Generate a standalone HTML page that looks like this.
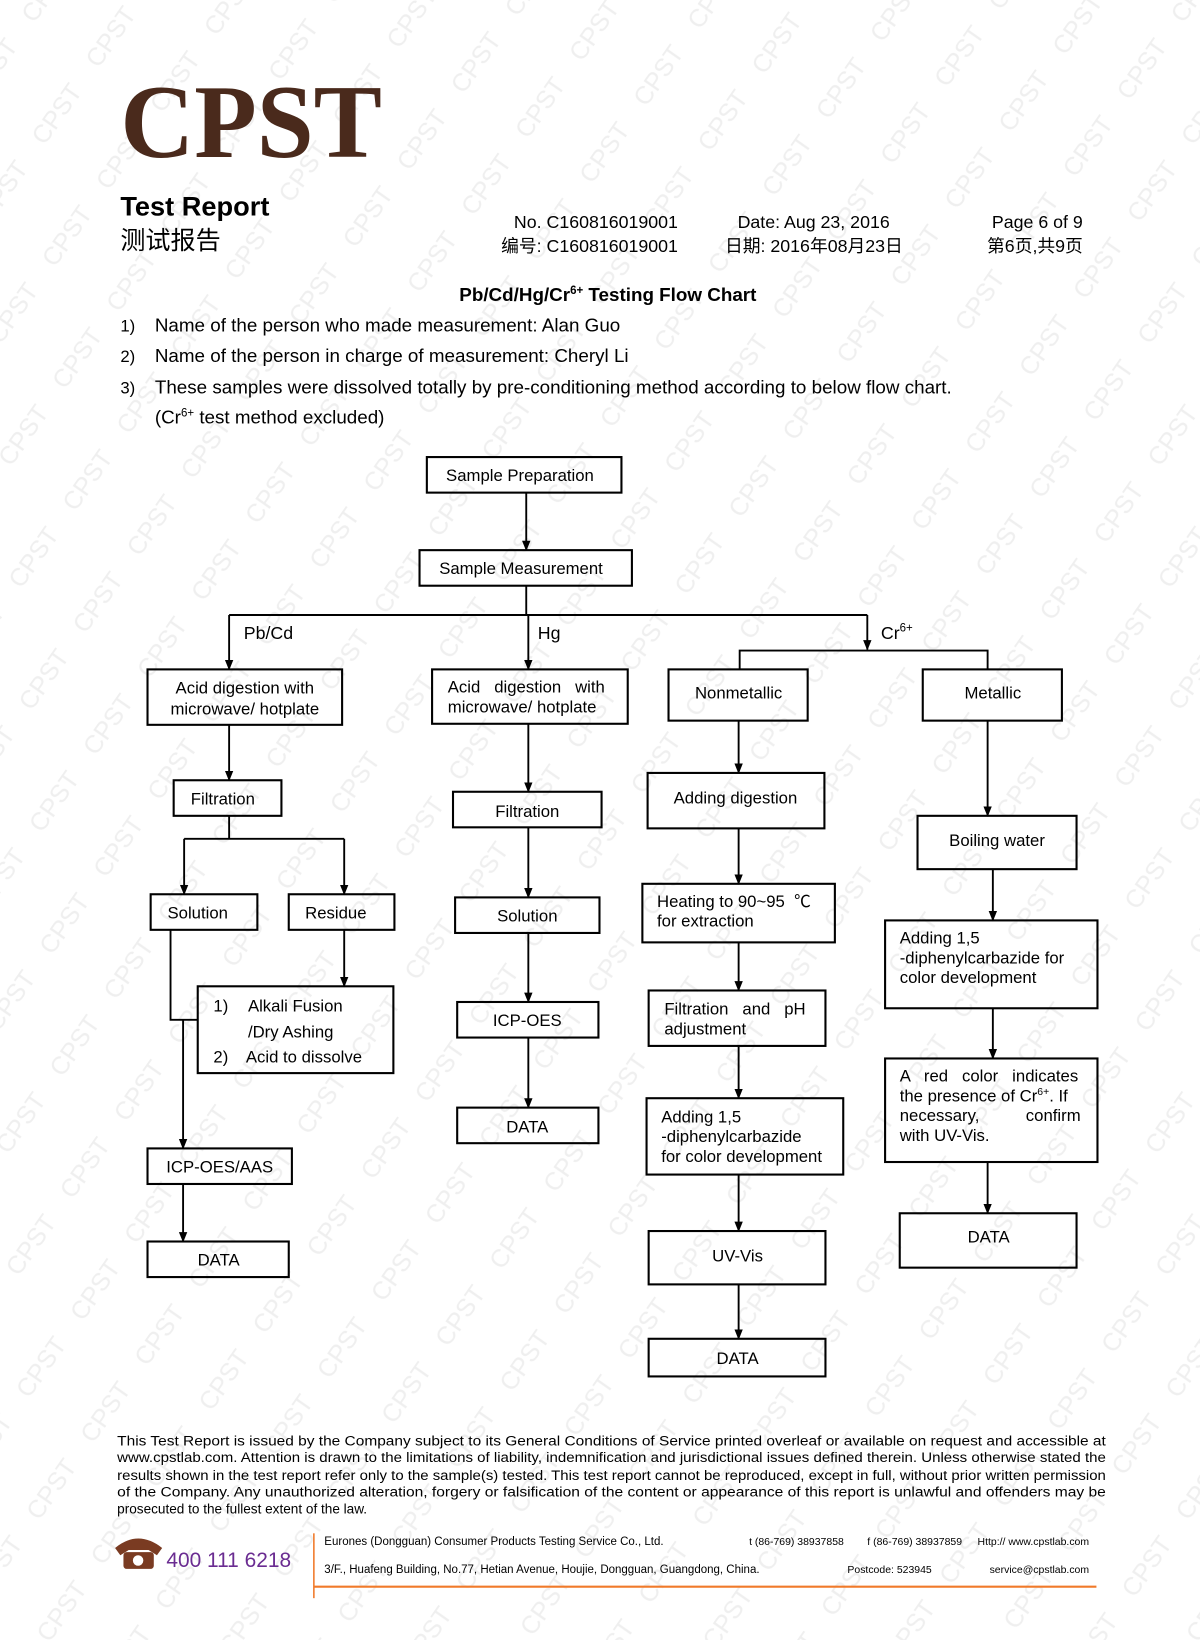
<!DOCTYPE html>
<html><head><meta charset="utf-8"><style>
html,body{margin:0;padding:0;background:#fff;}
svg{display:block;}
text{font-family:"Liberation Sans","Noto Sans CJK SC",sans-serif;fill:#000;white-space:pre;}
</style></head><body>
<svg width="1200" height="1640" viewBox="0 0 1147 1568" preserveAspectRatio="none" xmlns="http://www.w3.org/2000/svg">
<defs>
<marker id="a" markerWidth="10" markerHeight="10" refX="9" refY="5" orient="auto" markerUnits="userSpaceOnUse"><path d="M0,1 L10,5 L0,9 z" fill="#000"/></marker>
<pattern id="wm" width="90" height="75" patternUnits="userSpaceOnUse" patternTransform="rotate(-55)">
<text x="0" y="40" font-size="24" style="fill:#efefef">CPST</text></pattern>
</defs>
<rect width="1147" height="1568" fill="#fff"/>
<rect width="1147" height="1568" fill="url(#wm)"/>

<text x="115" y="150" font-size="100" font-weight="bold" textLength="250" lengthAdjust="spacingAndGlyphs" style="fill:#4a2a1c;font-family:'Liberation Serif',serif">CPST</text>
<text x="115" y="206" font-size="26" font-weight="bold">Test Report</text>
<text x="115" y="238" font-size="24">测试报告</text>
<g font-size="17">
<text x="648" y="218" text-anchor="end">No. C160816019001</text>
<text x="648" y="241" text-anchor="end">编号: C160816019001</text>
<text x="705" y="218">Date: Aug 23, 2016</text>
<text x="693" y="241">日期: 2016年08月23日</text>
<text x="1035" y="218" text-anchor="end">Page 6 of 9</text>
<text x="1035" y="241" text-anchor="end">第6页,共9页</text>
</g>
<text x="581" y="288" font-size="18" font-weight="bold" text-anchor="middle">Pb/Cd/Hg/Cr<tspan font-size="11" dy="-7">6+</tspan><tspan dy="7"> Testing Flow Chart</tspan></text>
<g font-size="18">
<text x="115" y="317" font-size="16">1)</text><text x="148" y="317">Name of the person who made measurement: Alan Guo</text>
<text x="115" y="346" font-size="16">2)</text><text x="148" y="346">Name of the person in charge of measurement: Cheryl Li</text>
<text x="115" y="376" font-size="16">3)</text><text x="148" y="376">These samples were dissolved totally by pre-conditioning method according to below flow chart.</text>
<text x="148" y="405">(Cr<tspan font-size="11" dy="-7">6+</tspan><tspan dy="7"> test method excluded)</tspan></text>
</g>

<g fill="none" stroke="#000" stroke-width="2">
<rect x="408" y="437" width="186" height="34"/>
<rect x="401" y="526" width="203" height="34"/>
<rect x="141" y="640" width="186" height="53"/>
<rect x="166" y="746" width="103" height="34"/>
<rect x="144" y="855" width="102" height="34"/>
<rect x="276" y="855" width="101" height="34"/>
<rect x="189" y="943" width="187" height="83"/>
<rect x="141" y="1098" width="138" height="34"/>
<rect x="141" y="1187" width="135" height="34"/>
<rect x="413" y="640" width="187" height="52"/>
<rect x="433" y="757" width="142" height="34"/>
<rect x="435" y="858" width="138" height="34"/>
<rect x="437" y="958" width="135" height="34"/>
<rect x="437" y="1059" width="135" height="34"/>
<rect x="639" y="640" width="133" height="49"/>
<rect x="619" y="739" width="169" height="53"/>
<rect x="614" y="845" width="184" height="56"/>
<rect x="620" y="947" width="169" height="53"/>
<rect x="618" y="1050" width="188" height="73"/>
<rect x="620" y="1177" width="169" height="51"/>
<rect x="620" y="1280" width="169" height="36"/>
<rect x="882" y="640" width="133" height="49"/>
<rect x="877" y="780" width="152" height="51"/>
<rect x="846" y="880" width="203" height="84"/>
<rect x="846" y="1012" width="203" height="99"/>
<rect x="860" y="1160" width="169" height="52"/>
</g>
<g fill="none" stroke="#000" stroke-width="1.8">
<line x1="503" y1="471" x2="503" y2="526" marker-end="url(#a)"/>
<polyline points="503,560 503,588"/>
<line x1="219" y1="588" x2="829" y2="588"/>
<line x1="219" y1="588" x2="219" y2="640" marker-end="url(#a)"/>
<line x1="505" y1="588" x2="505" y2="640" marker-end="url(#a)"/>
<line x1="829" y1="588" x2="829" y2="621" marker-end="url(#a)"/>
<polyline points="707,640 707,622 944,622 944,640"/>
<line x1="219" y1="693" x2="219" y2="746" marker-end="url(#a)"/>
<polyline points="219,780 219,802"/>
<line x1="176" y1="802" x2="329" y2="802"/>
<line x1="176" y1="802" x2="176" y2="855" marker-end="url(#a)"/>
<line x1="329" y1="802" x2="329" y2="855" marker-end="url(#a)"/>
<line x1="329" y1="889" x2="329" y2="943" marker-end="url(#a)"/>
<polyline points="163,889 163,975 189,975"/>
<line x1="175" y1="975" x2="175" y2="1098" marker-end="url(#a)"/>
<line x1="175" y1="1132" x2="175" y2="1187" marker-end="url(#a)"/>
<line x1="505" y1="692" x2="505" y2="757" marker-end="url(#a)"/>
<line x1="505" y1="791" x2="505" y2="858" marker-end="url(#a)"/>
<line x1="505" y1="892" x2="505" y2="958" marker-end="url(#a)"/>
<line x1="505" y1="992" x2="505" y2="1059" marker-end="url(#a)"/>
<line x1="706" y1="689" x2="706" y2="739" marker-end="url(#a)"/>
<line x1="706" y1="792" x2="706" y2="845" marker-end="url(#a)"/>
<line x1="706" y1="901" x2="706" y2="947" marker-end="url(#a)"/>
<line x1="706" y1="1000" x2="706" y2="1050" marker-end="url(#a)"/>
<line x1="706" y1="1123" x2="706" y2="1177" marker-end="url(#a)"/>
<line x1="706" y1="1228" x2="706" y2="1280" marker-end="url(#a)"/>
<line x1="944" y1="689" x2="944" y2="780" marker-end="url(#a)"/>
<line x1="949" y1="831" x2="949" y2="880" marker-end="url(#a)"/>
<line x1="949" y1="964" x2="949" y2="1012" marker-end="url(#a)"/>
<line x1="944" y1="1111" x2="944" y2="1160" marker-end="url(#a)"/>
</g>

<g font-size="16">
<text x="497" y="460" text-anchor="middle">Sample Preparation</text>
<text x="498" y="549" text-anchor="middle">Sample Measurement</text>
<text x="233" y="611" font-size="17">Pb/Cd</text>
<text x="514" y="611" font-size="17">Hg</text>
<text x="842" y="611" font-size="17">Cr<tspan font-size="11" dy="-7">6+</tspan></text>
<text x="234" y="663" text-anchor="middle">Acid digestion with</text>
<text x="234" y="683" text-anchor="middle">microwave/ hotplate</text>
<text x="213" y="769" text-anchor="middle">Filtration</text>
<text x="189" y="878" text-anchor="middle">Solution</text>
<text x="321" y="878" text-anchor="middle">Residue</text>
<text x="204" y="967">1)</text><text x="237" y="967">Alkali Fusion</text>
<text x="237" y="992">/Dry Ashing</text>
<text x="204" y="1016">2)</text><text x="235" y="1016">Acid to dissolve</text>
<text x="210" y="1121" text-anchor="middle">ICP-OES/AAS</text>
<text x="209" y="1210" text-anchor="middle">DATA</text>
<text x="428" y="662">Acid   digestion   with</text>
<text x="428" y="681">microwave/ hotplate</text>
<text x="504" y="781" text-anchor="middle">Filtration</text>
<text x="504" y="881" text-anchor="middle">Solution</text>
<text x="504" y="981" text-anchor="middle">ICP-OES</text>
<text x="504" y="1083" text-anchor="middle">DATA</text>
<text x="706" y="668" text-anchor="middle">Nonmetallic</text>
<text x="703" y="768" text-anchor="middle">Adding digestion</text>
<text x="628" y="867">Heating to 90~95  ℃</text>
<text x="628" y="886">for extraction</text>
<text x="635" y="970">Filtration   and   pH</text>
<text x="635" y="989">adjustment</text>
<text x="632" y="1073">Adding 1,5</text>
<text x="632" y="1092">-diphenylcarbazide</text>
<text x="632" y="1111">for color development</text>
<text x="705" y="1206" text-anchor="middle">UV-Vis</text>
<text x="705" y="1304" text-anchor="middle">DATA</text>
<text x="949" y="668" text-anchor="middle">Metallic</text>
<text x="953" y="809" text-anchor="middle">Boiling water</text>
<text x="860" y="902">Adding 1,5</text>
<text x="860" y="921">-diphenylcarbazide for</text>
<text x="860" y="940">color development</text>
<text x="860" y="1034">A   red   color   indicates</text>
<text x="860" y="1053">the presence of Cr<tspan font-size="10" dy="-6">6+</tspan><tspan dy="6">. If</tspan></text>
<text x="860" y="1072">necessary,          confirm</text>
<text x="860" y="1091">with UV-Vis.</text>
<text x="945" y="1188" text-anchor="middle">DATA</text>
</g>

<g font-size="13">
<text x="112" y="1382" textLength="945" lengthAdjust="spacingAndGlyphs">This Test Report is issued by the Company subject to its General Conditions of Service printed overleaf or available on request and accessible at</text>
<text x="112" y="1398" textLength="945" lengthAdjust="spacingAndGlyphs">www.cpstlab.com. Attention is drawn to the limitations of liability, indemnification and jurisdictional issues defined therein. Unless otherwise stated the</text>
<text x="112" y="1415" textLength="945" lengthAdjust="spacingAndGlyphs">results shown in the test report refer only to the sample(s) tested. This test report cannot be reproduced, except in full, without prior written permission</text>
<text x="112" y="1431" textLength="945" lengthAdjust="spacingAndGlyphs">of the Company. Any unauthorized alteration, forgery or falsification of the content or appearance of this report is unlawful and offenders may be</text>
<text x="112" y="1447">prosecuted to the fullest extent of the law.</text>
</g>
<g fill="#7a3b22">
<path d="M110,1480 Q132,1462 155,1480 L150,1487 L142,1482 L123,1482 L115,1487 z"/>
<rect x="118" y="1484" width="29" height="16" rx="3"/>
</g>
<circle cx="132" cy="1492" r="5" fill="#fff"/>
<text x="159" y="1498" font-size="20" style="fill:#6a2c91">400 111 6218</text>
<line x1="300" y1="1466" x2="300" y2="1528" stroke="#f07a2a" stroke-width="1.5"/>
<line x1="300" y1="1517" x2="1048" y2="1517" stroke="#f07a2a" stroke-width="2"/>
<g font-size="11">
<text x="310" y="1477">Eurones (Dongguan) Consumer Products Testing Service Co., Ltd.</text>
<text x="716" y="1477" font-size="10">t (86-769) 38937858</text>
<text x="829" y="1477" font-size="10">f (86-769) 38937859</text>
<text x="1041" y="1477" font-size="10" text-anchor="end">Http:// www.cpstlab.com</text>
<text x="310" y="1504">3/F., Huafeng Building, No.77, Hetian Avenue, Houjie, Dongguan, Guangdong, China.</text>
<text x="810" y="1504" font-size="10">Postcode: 523945</text>
<text x="1041" y="1504" font-size="10" text-anchor="end">service@cpstlab.com</text>
</g>
</svg>
</body></html>
